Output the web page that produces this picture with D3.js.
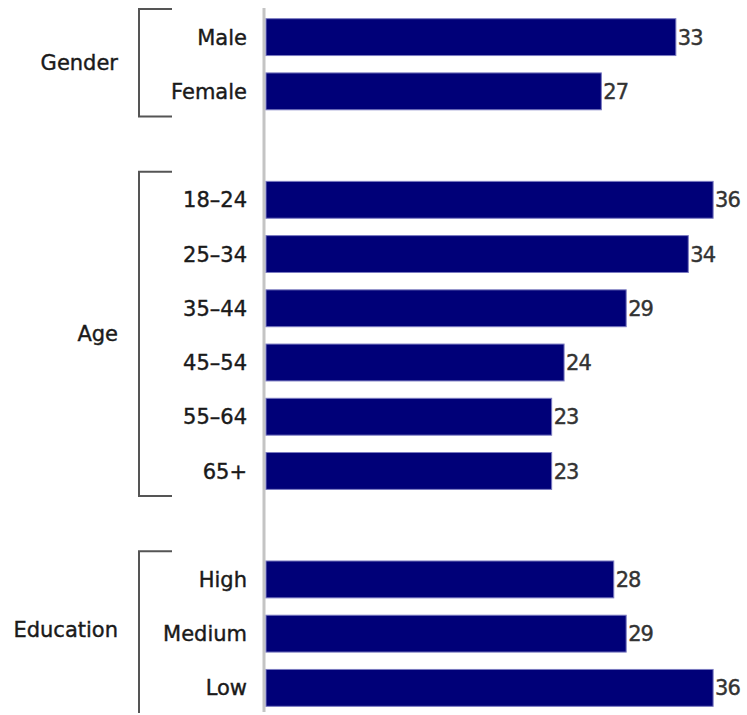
<!DOCTYPE html>
<html><head><meta charset="utf-8">
<script src="https://cdn.jsdelivr.net/npm/d3@7"></script>
<style>html,body{margin:0;padding:0;background:#fff;}svg{display:block;}</style>
</head><body>
<script>
const categories = ["Male","Female","","18–24","25–34","35–44","45–54","55–64","65+","","High","Medium","Low"];
const values = [33,27,null,36,34,29,24,23,23,null,28,29,36];
const groups = ["Gender","Age","Education"];
const groupMembers = [["Male","Female"],["18–24","25–34","35–44","45–54","55–64","65+"],["High","Medium","Low"]];

const W = 747, H = 715;
const svg = d3.select("body").append("svg").attr("width", W).attr("height", H);
const font = "DejaVu Sans, Verdana, sans-serif";

const y = d3.scaleBand().domain(categories.map((c,i)=>i)).range([10, 715]).paddingInner(0.32).paddingOuter(0.16);
const x = d3.scaleLinear().domain([0, 40]).range([266, 266 + 12.42*40]);

svg.append("line").attr("x1",264).attr("x2",264).attr("y1",8).attr("y2",712)
  .attr("stroke","#c4c4c4").attr("stroke-width",3);

const data = categories.map((c,i)=>({c, v: values[i], i})).filter(d=>d.v!=null);

svg.selectAll("rect.bar").data(data).enter().append("rect")
  .attr("class","bar")
  .attr("x", x(0)).attr("y", d=>y(d.i))
  .attr("width", d=>x(d.v)-x(0)).attr("height", y.bandwidth())
  .attr("fill","#000078").attr("stroke","#7a7ac0").attr("stroke-width",1);

svg.selectAll("text.val").data(data).enter().append("text")
  .attr("x", d=>x(d.v)+2).attr("y", d=>y(d.i)+y.bandwidth()/2)
  .attr("dy","0.36em").attr("font-family",font).attr("font-size",21)
  .attr("fill","#333").attr("stroke","#333").attr("stroke-width",0.4).attr("letter-spacing","-1")
  .text(d=>d.v);

svg.selectAll("text.cat").data(data).enter().append("text")
  .attr("x", 247).attr("y", d=>y(d.i)+y.bandwidth()/2)
  .attr("dy","0.36em").attr("text-anchor","end")
  .attr("font-family",font).attr("font-size",21).attr("fill","#1a1a1a")
  .attr("stroke","#1a1a1a").attr("stroke-width",0.4)
  .text(d=>d.c);

const half = (y.step())/2;
groups.forEach((g,gi)=>{
  const mem = groupMembers[gi];
  const first = categories.indexOf(mem[0]);
  const last = categories.indexOf(mem[mem.length-1]);
  const c1 = y(first)+y.bandwidth()/2, c2 = y(last)+y.bandwidth()/2;
  const top = c1 - half - 1, bot = Math.min(c2 + half - 2, 713);
  const bx = 139, ex = 172;
  svg.append("path")
    .attr("d", `M${ex},${top}H${bx}V${bot}` + (bot < 713 ? `H${ex}` : ""))
    .attr("fill","none").attr("stroke","#555").attr("stroke-width",2);
  let ly = (c1+c2)/2 - 2;
  if (mem.length % 2 === 1) {
    const mid = categories.indexOf(mem[(mem.length-1)/2]);
    ly = y(mid)+y.bandwidth()/2 - 4;
  }
  svg.append("text").attr("x",118).attr("y",ly).attr("dy","0.36em")
    .attr("text-anchor","end").attr("font-family",font).attr("font-size",21)
    .attr("fill","#1a1a1a").attr("stroke","#1a1a1a").attr("stroke-width",0.4).text(g);
});
</script>
</body></html>
